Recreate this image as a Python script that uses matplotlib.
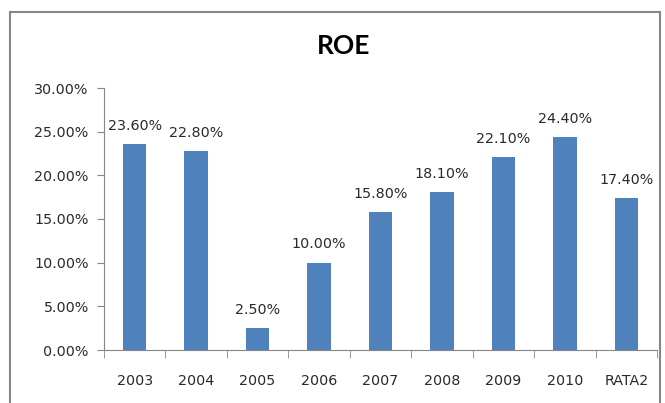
import matplotlib
matplotlib.use("Agg")
import matplotlib.pyplot as plt
from matplotlib.patches import Rectangle
from matplotlib.ticker import FuncFormatter, FixedLocator

categories = ["2003", "2004", "2005", "2006", "2007", "2008", "2009", "2010", "RATA2"]
roe = [23.6, 22.8, 2.5, 10.0, 15.8, 18.1, 22.1, 24.4, 17.4]

plt.rcParams["font.family"] = ["DejaVu Sans"]

fig = plt.figure(figsize=(6.65, 4.03), dpi=100)
ax = fig.add_axes([104 / 665, 1 - 350 / 403, (657 - 104) / 665, (350 - 88) / 403])

x = range(len(categories))
ax.bar(x, roe, width=0.38, color="#4F81BD")
for i, v in zip(x, roe):
    ax.text(i, v + 1.3, "%.2f%%" % v, ha="center", va="bottom", fontsize=10.3, color="#2a2a2a")

ax.set_xlim(-0.5, len(categories) - 0.5)
ax.set_ylim(0, 30)
ax.set_yticks([0, 5, 10, 15, 20, 25, 30])
ax.yaxis.set_major_formatter(FuncFormatter(lambda v, p: "%.2f%%" % v))
ax.set_xticks(list(x))
ax.set_xticklabels(categories)
ax.xaxis.set_minor_locator(FixedLocator([i - 0.5 for i in range(len(categories) + 1)]))
ax.tick_params(axis="x", which="major", length=0, pad=17, labelsize=10.3, labelcolor="#2a2a2a")
ax.tick_params(axis="x", which="minor", length=6, color="#868686", direction="out")
ax.tick_params(axis="y", length=5, color="#868686", labelsize=10.3, labelcolor="#2a2a2a", pad=6)

for s in ["top", "right"]:
    ax.spines[s].set_visible(False)
for s in ["left", "bottom"]:
    ax.spines[s].set_color("#868686")

fig.text(343.5 / 665, 1 - 46.5 / 403, "ROE", ha="center", va="center", fontsize=19,
         fontweight="bold", family=["Lato", "DejaVu Sans"])

fig.patches.append(Rectangle((10 / 665, -0.05), (660 - 10) / 665, 1.05 - 12 / 403,
                             transform=fig.transFigure, fill=False, edgecolor="#868686", linewidth=1.5))

fig.savefig("out.png", dpi=100)
